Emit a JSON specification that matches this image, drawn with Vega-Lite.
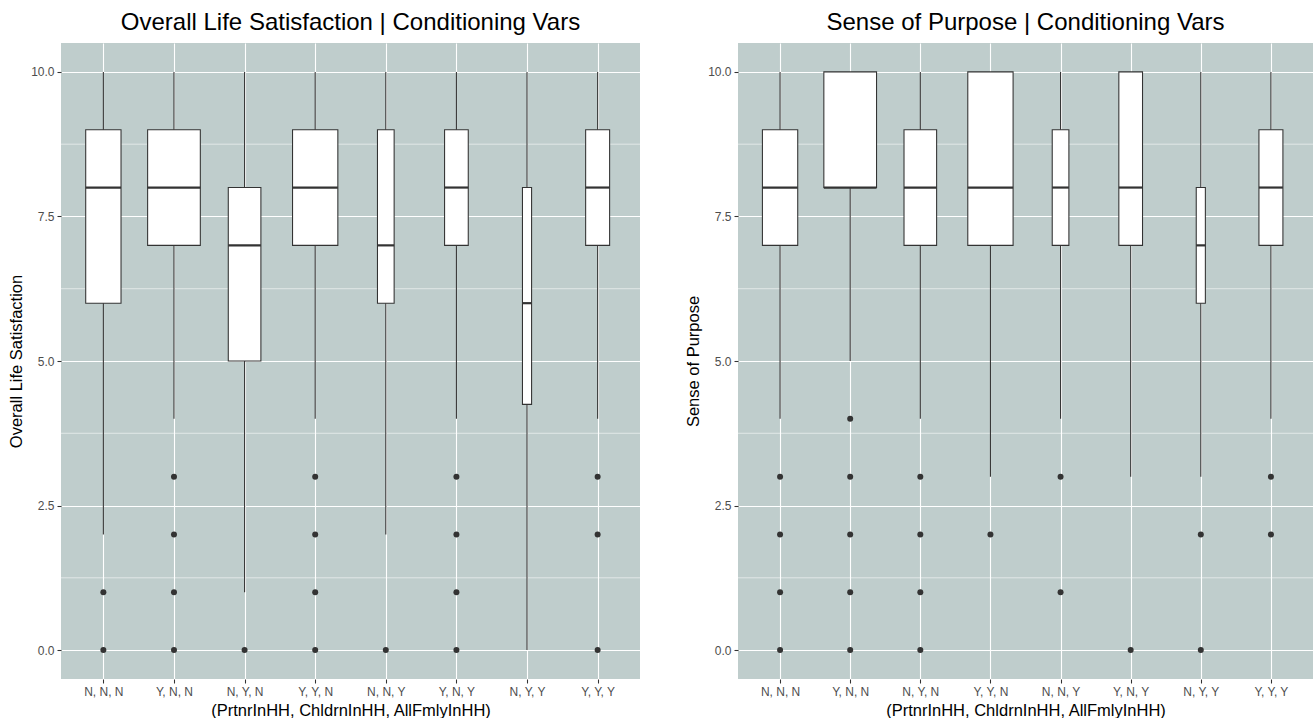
{
  "$schema": "https://vega.github.io/schema/vega-lite/v6.json",
  "background": "white",
  "padding": {"left": 8, "top": 11, "right": 0, "bottom": 0},
  "bounds": "flush",
  "spacing": 98,
  "datasets": {
    "ls_box": [
      {"cat": "N, N, N", "lo": 2, "q1": 6, "med": 8, "q3": 9, "hi": 10, "n": 449},
      {"cat": "Y, N, N", "lo": 4, "q1": 7, "med": 8, "q3": 9, "hi": 10, "n": 1000},
      {"cat": "N, Y, N", "lo": 1, "q1": 5, "med": 7, "q3": 8, "hi": 10, "n": 383},
      {"cat": "Y, Y, N", "lo": 4, "q1": 7, "med": 8, "q3": 9, "hi": 10, "n": 739},
      {"cat": "N, N, Y", "lo": 2, "q1": 6, "med": 7, "q3": 9, "hi": 10, "n": 100},
      {"cat": "Y, N, Y", "lo": 4, "q1": 7, "med": 8, "q3": 9, "hi": 10, "n": 202},
      {"cat": "N, Y, Y", "lo": 0, "q1": 4.25, "med": 6, "q3": 8, "hi": 10, "n": 30},
      {"cat": "Y, Y, Y", "lo": 4, "q1": 7, "med": 8, "q3": 9, "hi": 10, "n": 207}
    ],
    "ls_out": [
      {"cat": "N, N, Y", "value": 0},
      {"cat": "N, N, N", "value": 1}, {"cat": "N, N, N", "value": 0},
      {"cat": "Y, N, N", "value": 3}, {"cat": "Y, N, N", "value": 2}, {"cat": "Y, N, N", "value": 1}, {"cat": "Y, N, N", "value": 0},
      {"cat": "N, Y, N", "value": 0},
      {"cat": "Y, Y, N", "value": 3}, {"cat": "Y, Y, N", "value": 2}, {"cat": "Y, Y, N", "value": 1}, {"cat": "Y, Y, N", "value": 0},
      {"cat": "Y, N, Y", "value": 3}, {"cat": "Y, N, Y", "value": 2}, {"cat": "Y, N, Y", "value": 1}, {"cat": "Y, N, Y", "value": 0},
      {"cat": "Y, Y, Y", "value": 3}, {"cat": "Y, Y, Y", "value": 2}, {"cat": "Y, Y, Y", "value": 0}
    ],
    "sp_box": [
      {"cat": "N, N, N", "lo": 4, "q1": 7, "med": 8, "q3": 9, "hi": 10, "n": 449},
      {"cat": "Y, N, N", "lo": 5, "q1": 8, "med": 8, "q3": 10, "hi": 10, "n": 1000},
      {"cat": "N, Y, N", "lo": 4, "q1": 7, "med": 8, "q3": 9, "hi": 10, "n": 383},
      {"cat": "Y, Y, N", "lo": 3, "q1": 7, "med": 8, "q3": 10, "hi": 10, "n": 739},
      {"cat": "N, N, Y", "lo": 4, "q1": 7, "med": 8, "q3": 9, "hi": 10, "n": 100},
      {"cat": "Y, N, Y", "lo": 3, "q1": 7, "med": 8, "q3": 10, "hi": 10, "n": 202},
      {"cat": "N, Y, Y", "lo": 3, "q1": 6, "med": 7, "q3": 8, "hi": 10, "n": 30},
      {"cat": "Y, Y, Y", "lo": 4, "q1": 7, "med": 8, "q3": 9, "hi": 10, "n": 207}
    ],
    "sp_out": [
      {"cat": "N, N, N", "value": 3}, {"cat": "N, N, N", "value": 2}, {"cat": "N, N, N", "value": 1}, {"cat": "N, N, N", "value": 0},
      {"cat": "Y, N, N", "value": 4}, {"cat": "Y, N, N", "value": 3}, {"cat": "Y, N, N", "value": 2}, {"cat": "Y, N, N", "value": 1}, {"cat": "Y, N, N", "value": 0},
      {"cat": "N, Y, N", "value": 3}, {"cat": "N, Y, N", "value": 2}, {"cat": "N, Y, N", "value": 1}, {"cat": "N, Y, N", "value": 0},
      {"cat": "Y, Y, N", "value": 2},
      {"cat": "N, N, Y", "value": 3}, {"cat": "N, N, Y", "value": 1},
      {"cat": "Y, N, Y", "value": 0},
      {"cat": "N, Y, Y", "value": 2}, {"cat": "N, Y, Y", "value": 0},
      {"cat": "Y, Y, Y", "value": 3}, {"cat": "Y, Y, Y", "value": 2}
    ],
    "minor": [{"v": 1.25}, {"v": 3.75}, {"v": 6.25}, {"v": 8.75}]
  },
  "resolve": {"scale": {"x": "independent", "y": "independent", "size": "independent"}},
  "config": {
    "font": "Liberation Sans",
    "view": {"fill": "#BFCDCC", "stroke": null},
    "axis": {
      "domain": false, "grid": true, "gridColor": "#FFFFFF", "gridWidth": 1.1,
      "tickColor": "#333333", "tickSize": 4, "tickWidth": 1.07,
      "labelColor": "#4D4D4D", "labelFontSize": 12, "labelFont": "Liberation Sans",
      "titleFontSize": 16.5, "titleFontWeight": "normal", "titleColor": "#000000", "titleFont": "Liberation Sans"
    },
    "title": {"fontSize": 24, "fontWeight": "normal", "color": "#000000", "font": "Liberation Sans", "anchor": "middle", "baseline": "alphabetic", "offset": 8}
  },
  "hconcat": [
    {
      "width": 579, "height": 636,
      "title": "Overall Life Satisfaction | Conditioning Vars",
      "layer": [
        {
          "data": {"name": "minor"},
          "mark": {"type": "rule", "color": "#FFFFFF", "strokeWidth": 0.55},
          "encoding": {
            "y": {"field": "v", "type": "quantitative", "title": "Overall Life Satisfaction",
                  "scale": {"domain": [-0.5, 10.5], "nice": false, "zero": false},
                  "axis": {"values": [0, 2.5, 5, 7.5, 10], "format": ".1f", "labelPadding": 3, "titlePadding": 6}}
          }
        },
        {
          "data": {"name": "ls_box"},
          "mark": {"type": "rule", "color": "#333333", "strokeWidth": 1.07},
          "encoding": {
            "x": {"field": "cat", "type": "nominal", "title": "(PrtnrInHH, ChldrnInHH, AllFmlyInHH)",
                  "scale": {"type": "point", "padding": 0.6, "domain": ["N, N, N", "Y, N, N", "N, Y, N", "Y, Y, N", "N, N, Y", "Y, N, Y", "N, Y, Y", "Y, Y, Y"]},
                  "axis": {"labelAngle": 0, "labelPadding": 3, "titlePadding": 5}},
            "y": {"field": "lo", "type": "quantitative", "title": "Overall Life Satisfaction"},
            "y2": {"field": "hi"}
          }
        },
        {
          "data": {"name": "ls_box"},
          "mark": {"type": "bar", "fill": "#FFFFFF", "stroke": "#333333", "strokeWidth": 1.07},
          "encoding": {
            "x": {"field": "cat", "type": "nominal", "title": "(PrtnrInHH, ChldrnInHH, AllFmlyInHH)"},
            "y": {"field": "q1", "type": "quantitative", "title": "Overall Life Satisfaction"},
            "y2": {"field": "q3"},
            "size": {"field": "n", "type": "quantitative", "legend": null,
                     "scale": {"type": "sqrt", "domain": [0, 1000], "range": [0, 52.7], "zero": true}}
          }
        },
        {
          "data": {"name": "ls_box"},
          "mark": {"type": "tick", "color": "#333333", "thickness": 2.2, "opacity": 1},
          "encoding": {
            "x": {"field": "cat", "type": "nominal", "title": "(PrtnrInHH, ChldrnInHH, AllFmlyInHH)"},
            "y": {"field": "med", "type": "quantitative", "title": "Overall Life Satisfaction"},
            "size": {"field": "n", "type": "quantitative", "legend": null}
          }
        },
        {
          "data": {"name": "ls_out"},
          "mark": {"type": "circle", "color": "#333333", "size": 36, "opacity": 1},
          "encoding": {
            "x": {"field": "cat", "type": "nominal", "title": "(PrtnrInHH, ChldrnInHH, AllFmlyInHH)"},
            "y": {"field": "value", "type": "quantitative", "title": "Overall Life Satisfaction"}
          }
        }
      ]
    },
    {
      "width": 575, "height": 636,
      "title": "Sense of Purpose | Conditioning Vars",
      "layer": [
        {
          "data": {"name": "minor"},
          "mark": {"type": "rule", "color": "#FFFFFF", "strokeWidth": 0.55},
          "encoding": {
            "y": {"field": "v", "type": "quantitative", "title": "Sense of Purpose",
                  "scale": {"domain": [-0.5, 10.5], "nice": false, "zero": false},
                  "axis": {"values": [0, 2.5, 5, 7.5, 10], "format": ".1f", "labelPadding": 3, "titlePadding": 6}}
          }
        },
        {
          "data": {"name": "sp_box"},
          "mark": {"type": "rule", "color": "#333333", "strokeWidth": 1.07},
          "encoding": {
            "x": {"field": "cat", "type": "nominal", "title": "(PrtnrInHH, ChldrnInHH, AllFmlyInHH)",
                  "scale": {"type": "point", "padding": 0.6, "domain": ["N, N, N", "Y, N, N", "N, Y, N", "Y, Y, N", "N, N, Y", "Y, N, Y", "N, Y, Y", "Y, Y, Y"]},
                  "axis": {"labelAngle": 0, "labelPadding": 3, "titlePadding": 5}},
            "y": {"field": "lo", "type": "quantitative", "title": "Sense of Purpose"},
            "y2": {"field": "hi"}
          }
        },
        {
          "data": {"name": "sp_box"},
          "mark": {"type": "bar", "fill": "#FFFFFF", "stroke": "#333333", "strokeWidth": 1.07},
          "encoding": {
            "x": {"field": "cat", "type": "nominal", "title": "(PrtnrInHH, ChldrnInHH, AllFmlyInHH)"},
            "y": {"field": "q1", "type": "quantitative", "title": "Sense of Purpose"},
            "y2": {"field": "q3"},
            "size": {"field": "n", "type": "quantitative", "legend": null,
                     "scale": {"type": "sqrt", "domain": [0, 1000], "range": [0, 52.7], "zero": true}}
          }
        },
        {
          "data": {"name": "sp_box"},
          "mark": {"type": "tick", "color": "#333333", "thickness": 2.2, "opacity": 1},
          "encoding": {
            "x": {"field": "cat", "type": "nominal", "title": "(PrtnrInHH, ChldrnInHH, AllFmlyInHH)"},
            "y": {"field": "med", "type": "quantitative", "title": "Sense of Purpose"},
            "size": {"field": "n", "type": "quantitative", "legend": null}
          }
        },
        {
          "data": {"name": "sp_out"},
          "mark": {"type": "circle", "color": "#333333", "size": 36, "opacity": 1},
          "encoding": {
            "x": {"field": "cat", "type": "nominal", "title": "(PrtnrInHH, ChldrnInHH, AllFmlyInHH)"},
            "y": {"field": "value", "type": "quantitative", "title": "Sense of Purpose"}
          }
        }
      ]
    }
  ]
}
